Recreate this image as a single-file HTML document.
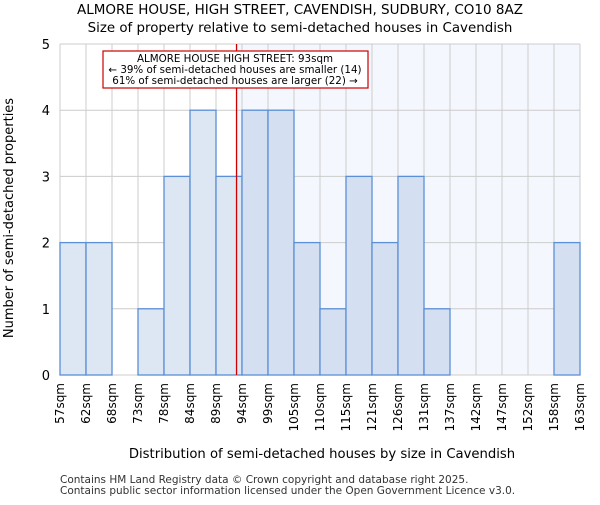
<!DOCTYPE html>
<html><head><meta charset="utf-8"><style>body{margin:0;background:#fff}svg{font-family:"DejaVu Sans","Liberation Sans",sans-serif}</style></head>
<body>
<svg id="c" width="600" height="500"></svg>
<script>
const categories=["57sqm","62sqm","68sqm","73sqm","78sqm","84sqm","89sqm","94sqm","99sqm","105sqm","110sqm","115sqm","121sqm","126sqm","131sqm","137sqm","142sqm","147sqm","152sqm","158sqm","163sqm"];
const counts=[2,2,0,1,3,4,3,4,4,2,1,3,2,3,1,0,0,0,0,2];
const yTicks=[0,1,2,3,4,5];
const markerBin=6.79;
const NS="http://www.w3.org/2000/svg";
const svg=document.getElementById('c');
const L=60,R=580,T=44,B=375,n=counts.length;
const x=i=>L+(R-L)*i/n;
const y=v=>B-(B-T)*v/5;
function el(t,a,txt){const e=document.createElementNS(NS,t);for(const k in a)e.setAttribute(k,a[k]);if(txt!==undefined)e.textContent=txt;svg.appendChild(e);return e;}
const mx=x(markerBin);
let e;
e=el('rect',{x:mx,y:T,width:R-mx,height:B-T,fill:'#f4f7fd'});


for(let i=0;i<=n;i++){e=el('line',{x1:x(i),x2:x(i),y1:T,y2:B,stroke:'#cccccc'});

}
yTicks.forEach(v=>{e=el('line',{x1:L,x2:R,y1:y(v),y2:y(v),stroke:'#cccccc'});


e=el('text',{x:L-10,y:y(v)+5,'text-anchor':'end','font-size':13},v);

});
counts.forEach((c,i)=>{if(!c)return;e=el('rect',{x:x(i),y:y(c),width:x(i+1)-x(i),height:B-y(c),fill:(i<markerBin?'#dde7f4':'#d4e0f2'),stroke:'#5b8fd6','stroke-width':1.3});

});
categories.forEach((c,i)=>{e=el('text',{transform:`translate(${x(i)+4},${B+8}) rotate(-90)`,'text-anchor':'end','font-size':12},c);

});
e=el('line',{x1:mx,x2:mx,y1:T,y2:B,stroke:'#cc0000','stroke-width':1.3});


e=el('rect',{x:103,y:51,width:265,height:37,fill:'#fff',stroke:'#cc0000','stroke-width':1.2});


["ALMORE HOUSE HIGH STREET: 93sqm","← 39% of semi-detached houses are smaller (14)","61% of semi-detached houses are larger (22) →"].forEach((t,i)=>{e=el('text',{x:235,y:62+i*11,'text-anchor':'middle','font-size':10.3},t);

});
e=el('text',{x:300,y:14,'text-anchor':'middle','font-size':13.5},"ALMORE HOUSE, HIGH STREET, CAVENDISH, SUDBURY, CO10 8AZ");


e=el('text',{x:300,y:32,'text-anchor':'middle','font-size':13.4},"Size of property relative to semi-detached houses in Cavendish");


e=el('text',{x:322,y:458,'text-anchor':'middle','font-size':13.2},"Distribution of semi-detached houses by size in Cavendish");


e=el('text',{transform:'translate(13,218) rotate(-90)','text-anchor':'middle','font-size':13},"Number of semi-detached properties");


e=el('text',{x:60,y:483,'font-size':10.5,fill:'#333'},"Contains HM Land Registry data © Crown copyright and database right 2025.");


e=el('text',{x:60,y:494,'font-size':10.5,fill:'#333'},"Contains public sector information licensed under the Open Government Licence v3.0.");


</script>
</body></html>
